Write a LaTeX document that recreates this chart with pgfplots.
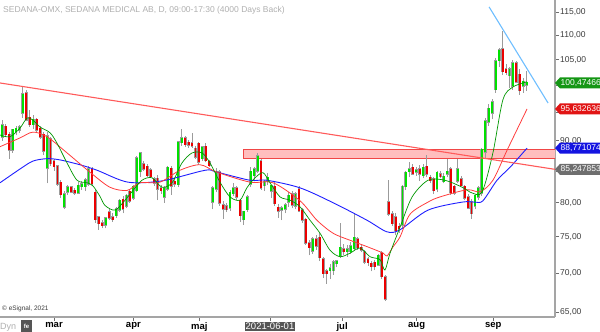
\documentclass[border=0pt]{standalone}
\usepackage{fontspec}
\setmainfont{Liberation Sans}
\usepackage{pgfplots}
\pgfplotsset{compat=1.18}
\usepackage{pgfplotstable}

\definecolor{cgreen}{RGB}{0,225,0}
\definecolor{cred}{RGB}{235,0,0}
\definecolor{wick}{RGB}{155,155,155}
\definecolor{magreen}{RGB}{0,150,0}
\definecolor{mared}{RGB}{255,60,60}
\definecolor{mablue}{RGB}{30,30,255}
\definecolor{trend}{RGB}{255,90,90}
\definecolor{ltblue}{RGB}{110,190,255}
\definecolor{zonef}{RGB}{255,190,190}
\definecolor{zoned}{RGB}{240,70,70}
\definecolor{axgray}{RGB}{165,165,165}
\definecolor{tickgray}{RGB}{110,110,110}
\definecolor{labgray}{RGB}{60,60,60}
\definecolor{titlegray}{RGB}{175,175,175}
\definecolor{dategray}{RGB}{85,85,85}
\definecolor{lgreen}{RGB}{20,150,20}
\definecolor{lred}{RGB}{225,20,20}
\definecolor{lblue}{RGB}{20,20,225}
\definecolor{lgray}{RGB}{110,110,110}

\pgfplotstableread{
i o h l c
-15 90.8 93.6 90.0 92.6
-14 92.4 93.0 90.8 91.2
-13 91.0 91.6 87.0 88.6
-12 88.6 92.0 88.0 91.8
-11 91.7 92.6 91.0 92.0
-10 92.0 92.8 91.4 92.3
-9 95.0 99.7 94.0 98.3
-8 98.4 99.2 93.4 93.8
-7 94.0 95.5 92.4 93.0
-6 93.0 94.6 92.0 93.6
-5 93.6 94.0 91.5 92.0
-4 92.0 92.6 90.4 90.8
-3 91.0 91.5 87.6 88.4
-2 85.6 91.5 83.0 90.7
-1 90.2 90.6 85.8 86.3
0 86.5 87.0 85.0 85.8
1 85.7 86.0 82.6 83.0
2 83.0 83.5 80.8 81.4
3 79.5 81.8 79.0 81.2
4 81.8 82.8 81.2 82.3
5 82.3 82.6 81.5 81.8
6 81.8 82.2 81.2 81.6
7 81.6 83.2 81.4 82.6
8 82.6 83.4 82.0 82.8
9 82.6 83.8 81.8 83.4
10 83.0 85.8 82.6 85.2
11 85.2 85.6 82.6 83.0
12 81.5 82.0 77.0 77.6
13 77.8 78.0 76.0 77.0
14 76.9 77.5 76.2 76.7
15 76.8 77.8 76.2 77.6
16 78.5 79.0 77.4 77.8
17 77.8 78.4 77.2 77.6
18 78.2 79.4 77.8 79.0
19 79.0 80.6 78.6 80.2
20 80.4 81.0 78.4 79.2
21 79.6 81.4 79.2 81.0
22 81.6 82.0 80.0 80.4
23 80.8 82.8 80.4 82.4
24 82.0 87.4 81.6 87.0
25 85.0 88.0 84.0 87.8
26 86.0 86.6 85.0 85.4
27 85.6 86.2 84.0 84.4
28 85.0 85.4 83.8 84.2
29 83.6 84.0 82.6 83.2
30 83.7 84.4 80.4 82.2
31 82.2 82.8 81.4 82.0
32 81.0 82.6 80.0 82.2
33 82.2 85.8 81.8 85.4
34 85.3 85.8 81.2 82.7
35 83.2 83.8 82.4 83.0
36 82.9 90.0 82.4 89.7
37 89.8 92.0 89.2 90.4
38 90.4 90.8 89.0 89.5
39 89.6 90.2 88.8 89.4
40 89.5 91.4 88.8 89.2
41 88.6 89.2 87.0 87.4
42 89.4 89.8 86.0 86.6
43 87.1 89.0 86.6 88.8
44 88.9 89.6 86.4 86.8
45 86.4 86.8 85.6 86.0
46 80.2 82.6 79.0 82.2
47 82.2 85.4 81.6 84.8
48 84.7 85.2 79.6 80.1
49 79.6 80.2 77.6 79.2
50 79.4 80.0 78.6 79.1
51 79.3 82.0 78.8 81.5
52 81.5 83.0 81.0 82.2
53 82.2 82.6 80.4 81.0
54 80.2 80.6 77.2 78.2
55 77.6 78.8 76.7 78.6
56 79.1 81.2 78.6 80.8
57 83.0 85.6 82.4 84.8
58 84.4 85.6 83.6 85.2
59 85.1 88.0 84.6 87.3
60 86.5 87.0 82.0 82.4
61 82.8 83.6 81.8 83.2
62 83.4 84.6 82.8 83.8
63 81.9 82.8 80.8 82.6
64 82.4 83.2 79.6 80.0
65 79.2 79.8 77.8 78.9
66 79.0 79.6 77.4 79.1
67 79.2 80.0 78.4 79.6
68 80.2 81.6 79.4 81.0
69 81.2 81.8 79.2 79.8
70 79.6 81.6 79.0 81.2
71 82.0 82.6 78.6 78.9
72 78.8 79.2 77.0 77.5
73 77.4 77.8 73.8 74.2
74 74.0 74.6 72.4 73.6
75 73.1 75.0 72.6 74.6
76 74.6 75.2 73.2 73.8
77 74.8 75.6 71.6 72.2
78 71.8 72.2 69.4 70.0
79 70.2 70.6 68.6 70.0
80 70.4 71.2 69.2 70.6
81 70.4 71.8 69.8 71.4
82 71.4 71.8 70.8 71.5
83 72.4 77.0 72.0 73.4
84 73.2 74.0 72.4 73.0
85 73.0 73.8 72.2 73.2
86 73.0 74.2 72.6 73.6
87 73.4 78.5 73.0 74.8
88 74.6 75.0 73.2 73.6
89 73.4 74.0 72.8 73.2
90 72.8 73.2 71.2 71.6
91 71.8 72.2 71.0 71.5
92 71.2 71.6 70.2 71.0
93 71.3 71.8 70.4 71.0
94 71.2 72.6 71.0 72.3
95 72.6 73.0 69.2 69.6
96 69.4 69.8 66.4 66.7
97 80.0 83.6 78.0 78.4
98 78.2 78.8 76.6 77.0
99 77.8 78.4 75.2 76.0
100 76.4 77.0 75.6 76.2
101 76.8 82.8 76.2 82.4
102 82.6 85.0 82.0 84.6
103 85.0 86.4 84.0 85.2
104 85.4 86.2 84.4 84.6
105 84.9 85.6 84.2 85.0
106 85.2 86.0 83.4 84.6
107 84.4 86.2 83.8 85.4
108 85.6 87.6 84.0 84.6
109 83.8 84.4 83.0 83.6
110 83.6 84.0 81.4 82.0
111 82.2 85.0 81.6 84.6
112 84.4 85.0 83.8 84.2
113 83.4 84.6 83.0 84.0
114 84.6 87.0 84.0 84.8
115 85.2 85.6 81.2 81.7
116 82.4 82.8 81.2 81.6
117 83.5 87.0 83.0 85.2
118 83.6 84.2 82.6 82.8
119 82.4 82.8 80.4 80.8
120 80.8 81.4 79.0 79.3
121 80.0 80.6 77.6 78.5
122 79.6 81.4 79.0 81.0
123 81.0 82.6 80.4 82.2
124 81.6 88.8 81.0 88.4
125 88.2 94.0 87.0 93.3
126 93.4 96.6 92.6 95.6
127 95.0 97.4 93.8 96.8
128 99.4 105.4 98.6 104.6
129 105.0 107.4 103.6 106.8
130 107.0 111.0 102.0 102.8
131 103.0 104.2 102.0 102.6
132 102.0 103.6 99.6 103.0
133 100.0 105.0 99.2 104.2
134 104.2 104.8 100.4 100.8
135 102.0 103.2 98.2 99.2
136 100.0 101.4 98.6 100.6
137 100.2 102.7 98.9 100.47
}\candles

\begin{document}
\begin{tikzpicture}
\path[use as bounding box] (0pt,0pt) rectangle (600pt,332pt);
\begin{axis}[
  at={(0pt,15pt)}, anchor=south west,
  scale only axis, width=555pt, height=317pt,
  xmin=-15.65, xmax=145.2,
  ymode=log, ymin=64.38, ymax=117.65,
  axis x line*=bottom, axis y line*=right,
  x axis line style={draw=axgray, line width=1.6pt},
  y axis line style={draw=axgray, line width=1.6pt},
  xtick={0,23,42.1,62.6,83.5,105.1,127.3},
  xticklabels={mar,apr,maj,{\setlength{\fboxsep}{1pt}\colorbox{dategray}{\textcolor{white}{\mdseries 2021-06-01}}},jul,aug,sep},
  ytick={65,70,75,80,85,90,95,100,105,110,115},
  yticklabels={{65,00},{70,00},{75,00},{80,00},{},{90,00},{},{},{105,00},{110,00},{115,00}},
  yminorticks=false,
  tick align=outside,
  major tick length=4pt,
  tick style={draw=tickgray, line width=0.7pt},
  xticklabel style={font=\bfseries\fontsize{9.5}{11}\selectfont, text=black, inner sep=1pt},
  yticklabel style={font=\fontsize{8.5}{10}\selectfont, text=labgray, inner sep=1pt},
]
% resistance zone
\addplot[fill=zonef, draw=zoned, line width=0.8pt] coordinates {(54.8,87.08) (146,87.08) (146,88.6) (54.8,88.6)} -- cycle;
% wicks
\addplot[draw=none, forget plot, error bars/.cd, y dir=plus, y explicit, error mark=none,
  error bar style={draw=wick, line width=0.9pt}]
  table[x=i, y=l, y error plus expr=\thisrow{h}-\thisrow{l}] {\candles};
% body outlines
\addplot[draw=none, forget plot, error bars/.cd, y dir=plus, y explicit, error mark=none,
  error bar style={draw=wick, line width=2.9pt, line cap=rect}]
  table[x=i, y expr={min(\thisrow{o},\thisrow{c})}, y error plus expr={abs(\thisrow{c}-\thisrow{o})}] {\candles};
% green bodies
\addplot[draw=none, forget plot, restrict expr to domain={\thisrow{c}-\thisrow{o}}{0:1000},
  error bars/.cd, y dir=plus, y explicit, error mark=none,
  error bar style={draw=cgreen, line width=1.9pt, line cap=rect}]
  table[x=i, y=o, y error plus expr=\thisrow{c}-\thisrow{o}] {\candles};
% red bodies
\addplot[draw=none, forget plot, restrict expr to domain={\thisrow{o}-\thisrow{c}}{0.0001:1000},
  error bars/.cd, y dir=plus, y explicit, error mark=none,
  error bar style={draw=cred, line width=1.9pt, line cap=rect}]
  table[x=i, y=c, y error plus expr=\thisrow{o}-\thisrow{c}] {\candles};
% moving averages
\addplot[mablue, line width=0.9pt, smooth] coordinates {(-15.65,83.1) (-9.86,85.3) (-6.1,86.6) (-2.0,87.0) (1.7,86.8) (7.5,86.0) (12.5,85.1) (21.4,83.2) (31.3,83.4) (43.8,85.1) (47.2,84.8) (56.8,83.5) (61.7,83.5) (71.3,82.3) (80.9,80.0) (90.7,77.4) (96.5,75.7) (100.3,76.0) (108.4,78.9) (118.3,80.1) (122,80.1) (124.3,80.3) (128.4,83.5) (132.2,85.6) (137.1,88.77)};
\addplot[mared, line width=0.8pt, smooth] coordinates {(-15.65,89.0) (-9.86,90.5) (-6.1,91.5) (-2.0,90.7) (3.8,87.95) (10.4,84.8) (16.2,82.4) (21.2,81.9) (24.9,83.1) (30.7,83.2) (36.5,85.1) (42.3,86.0) (47.2,84.8) (56.8,83.2) (63.5,83.1) (71.3,80.3) (76.2,77.4) (80.9,75.5) (85.8,74.5) (90.7,73.6) (95.4,72.7) (96.5,72.3) (98.3,73.6) (100.3,75.0) (103.2,78.3) (108.4,80.1) (111.9,80.9) (119.7,82.0) (123.5,81.7) (127.2,83.5) (131.3,88.4) (137.1,95.63)};
\addplot[magreen, line width=0.7pt, smooth] coordinates {(-15.65,91.0) (-12.75,90.7) (-9.86,92.2) (-7.8,94.0) (-6.1,93.6) (-4.06,92.4) (-1.16,91.4) (0.87,89.6) (3.77,86.3) (6.67,83.5) (9.57,83.1) (11.3,82.6) (13.3,81.0) (14.8,79.6) (17.7,78.9) (20.6,80.4) (22.6,81.7) (25.5,83.5) (28.4,83.9) (31.3,82.4) (34.2,83.1) (37.1,86.3) (40,87.95) (42.9,87.95) (45.2,86.3) (48.1,83.2) (51,80.9) (53.9,80.4) (55.9,82.3) (58.3,83.9) (60.6,84.7) (62.6,83.1) (65.5,80.9) (68.4,80.4) (71.3,79.4) (74.2,77.4) (77.1,75.5) (80,73.1) (82.9,72.2) (85.8,72.7) (88.7,73.4) (91.6,72.2) (94.5,71.8) (95.9,70.4) (97.4,72.7) (100.3,76.4) (103.8,80.9) (108.4,83.5) (113.3,83.5) (118.3,82.4) (121.2,81.5) (124.1,81.7) (127.2,87.95) (130.1,97.3) (133,99.7) (137.1,100.7)};
% trend lines
\addplot[trend, line width=1.1pt] coordinates {(-15.65,100.47) (145.2,85.25)};
\addplot[ltblue, line width=1.1pt] coordinates {(126.1,116.1) (143.2,96.7)};
\coordinate (gl) at (axis cs:145.2,100.47466);
\coordinate (rl) at (axis cs:145.2,95.632636);
\coordinate (bl) at (axis cs:145.2,88.771074);
\coordinate (kl) at (axis cs:145.2,85.247853);
\end{axis}
\foreach \p/\col/\txt in {gl/lgreen/{100,47466}, rl/lred/{95,632636}, bl/lblue/{88,771074}, kl/lgray/{85,247853}}{
  \fill[\col] (\p) -- ++(5pt,5.5pt) -- ++(60pt,0pt) -- ++(0pt,-11pt) -- ++(-60pt,0pt) -- cycle;
  \node[anchor=west, text=white, font=\fontsize{8.5}{10}\selectfont, inner sep=0pt] at ([xshift=5.5pt]\p) {\txt};
}
\node[anchor=west, text=titlegray, font=\fontsize{8.5}{10}\selectfont, inner sep=0pt] at (3pt,322pt) {SEDANA-OMX, SEDANA MEDICAL AB, D, 09:00-17:30 (4000 Days Back)};
\node[anchor=west, text=labgray, font=\fontsize{6.5}{8}\selectfont, inner sep=0pt] at (2pt,23pt) {\textcopyright{} eSignal, 2021};
\node[anchor=west, text=titlegray, font=\fontsize{9}{10}\selectfont, inner sep=0pt] at (0pt,5pt) {Dyn};
\fill[dategray] (21pt,0pt) rectangle (32pt,12pt);
\node[text=white, font=\bfseries\fontsize{6}{7}\selectfont, inner sep=0pt] at (26.5pt,6pt) {fe};
\end{tikzpicture}
\end{document}
